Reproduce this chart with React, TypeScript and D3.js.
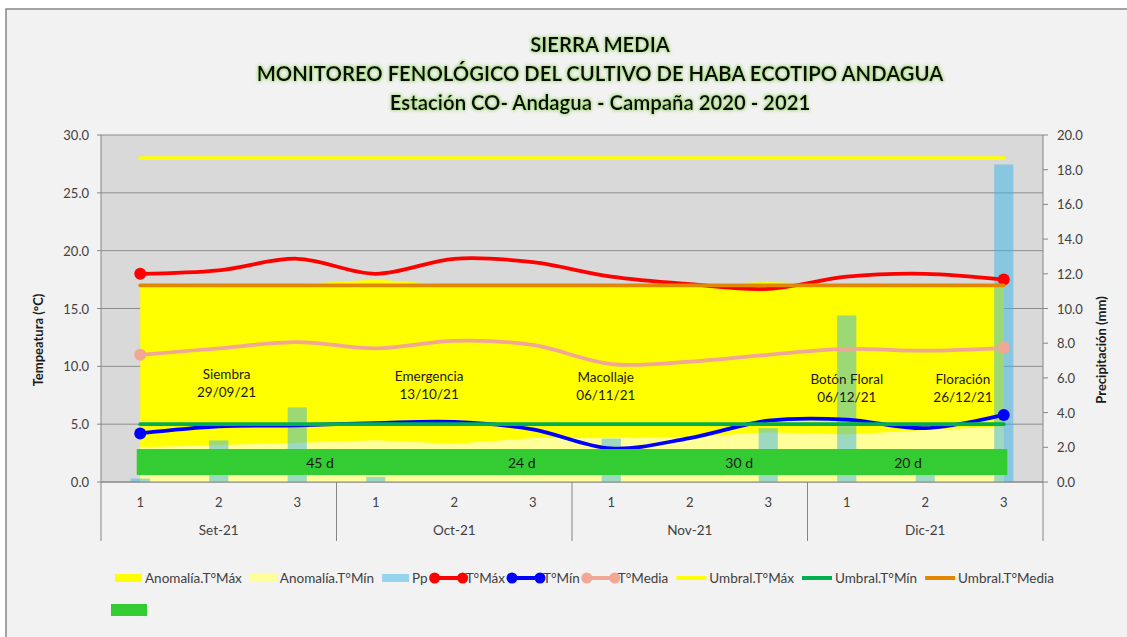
import React, { useEffect, useRef } from 'react';
import * as d3 from 'd3';

// --- data ---
const months = ['Set-21', 'Oct-21', 'Nov-21', 'Dic-21'];
const decades = ['1', '2', '3'];

const tMax = [18.0, 18.3, 19.3, 18.0, 19.3, 19.0, 17.75, 17.1, 16.7, 17.75, 18.0, 17.5];
const tMin = [4.2, 4.8, 4.9, 5.1, 5.2, 4.55, 2.9, 3.8, 5.3, 5.4, 4.65, 5.8];
const tMedia = [11.0, 11.55, 12.1, 11.55, 12.2, 11.85, 10.2, 10.4, 11.0, 11.5, 11.35, 11.6];
const pp = [0.2, 2.4, 4.3, 0.3, 0, 0, 2.5, 0, 3.1, 9.6, 1.2, 18.3];
const anomaliaMax = [17.0, 17.0, 17.1, 17.5, 17.0, 17.0, 17.0, 17.0, 17.3, 17.0, 17.0, 17.0];
const anomaliaMin = [3.0, 3.2, 3.4, 3.6, 3.3, 3.8, 3.8, 3.9, 4.3, 4.1, 4.5, 4.8];
const umbralMax = 28.0;
const umbralMin = 5.0;
const umbralMedia = 17.0;

// phenology annotations (x in category index, y in °C)
const phaseNames = ['Siembra', 'Emergencia', 'Macollaje', 'Botón Floral', 'Floración'];
const phaseDates = ['29/09/21', '13/10/21', '06/11/21', '06/12/21', '26/12/21'];
const phaseAt = [1.1, 3.68, 5.93, 9.0, 10.48];
const phaseTemp = [8.55, 8.4, 8.3, 8.15, 8.15];
const durations = ['45 d', '24 d', '30 d', '20 d'];
const durationAt = [2.29, 4.86, 7.63, 9.78];
const bandTemp = [0.6, 2.85];

const leftTicks = [0, 5, 10, 15, 20, 25, 30];
const rightTicks = [0, 2, 4, 6, 8, 10, 12, 14, 16, 18, 20];

const titleLines = [
    'SIERRA MEDIA',
    'MONITOREO FENOLÓGICO DEL CULTIVO DE HABA ECOTIPO ANDAGUA',
    'Estación CO- Andagua - Campaña 2020 - 2021',
];
const legendNames = ['Anomalía.T°Máx', 'Anomalía.T°Mín', 'Pp', 'T°Máx', 'T°Mín', 'T°Media', 'Umbral.T°Máx', 'Umbral.T°Mín', 'Umbral.T°Media'];

const FONT = 'Lato, "Open Sans", sans-serif';
const C = {
    yellow: '#ffff00',
    lightYellow: '#ffff99',
    pp: '#39b3e7',
    red: '#ff0000',
    blue: '#0000ff',
    pink: '#f2a695',
    green: '#00b050',
    orange: '#e28800',
    band: '#33cc33',
    text: '#404040',
    grid: '#8c8c8c',
};

const App = () => {
    const svgRef = useRef<SVGSVGElement>(null);

    useEffect(() => {
        const W = 1127, H = 637;
        const svg = d3.select(svgRef.current).attr('width', W).attr('height', H);
        svg.selectAll('*').remove();

        const defs = svg.append('defs');
        const f = defs.append('filter').attr('id', 'glow')
            .attr('x', '-10%').attr('y', '-40%').attr('width', '120%').attr('height', '180%');
        f.append('feMorphology').attr('in', 'SourceAlpha').attr('operator', 'dilate').attr('radius', 1).attr('result', 'd');
        f.append('feGaussianBlur').attr('in', 'd').attr('stdDeviation', 1.8).attr('result', 'b');
        f.append('feFlood').attr('flood-color', '#9ad86a').attr('flood-opacity', 0.7);
        f.append('feComposite').attr('in2', 'b').attr('operator', 'in').attr('result', 'g');
        const m = f.append('feMerge');
        m.append('feMergeNode').attr('in', 'g');
        m.append('feMergeNode').attr('in', 'SourceGraphic');

        // chart area
        svg.append('rect').attr('width', W).attr('height', H).attr('fill', '#fff');
        svg.append('rect').attr('x', 6).attr('y', 9).attr('width', W + 10).attr('height', H + 10)
            .attr('fill', '#f2f2f2').attr('stroke', '#868686').attr('stroke-width', 1.5);

        const plot = { left: 101, right: 1043, top: 135, bottom: 482 };
        const cats = months.flatMap(mo => decades.map(d => `${mo}|${d}`));
        const x = d3.scaleBand().domain(cats).range([plot.left, plot.right]).padding(0);
        const step = x.step();
        const cx = (i: number) => plot.left + (i + 0.5) * step;
        const yL = d3.scaleLinear().domain([0, 30]).range([plot.bottom, plot.top]);
        const yR = d3.scaleLinear().domain([0, 20]).range([plot.bottom, plot.top]);

        // plot background + gridlines
        svg.append('rect').attr('x', plot.left).attr('y', plot.top)
            .attr('width', plot.right - plot.left).attr('height', plot.bottom - plot.top).attr('fill', '#d9d9d9');
        svg.append('g').selectAll('line').data(leftTicks).join('line')
            .attr('x1', plot.left).attr('x2', plot.right)
            .attr('y1', d => yL(d)).attr('y2', d => yL(d))
            .attr('stroke', C.grid).attr('stroke-width', 1);

        // anomaly areas
        const area = d3.area<number>().x((_, i) => cx(i)).y0(yL(0)).y1(d => yL(d));
        svg.append('path').attr('d', area(anomaliaMax)).attr('fill', C.yellow);
        svg.append('path').attr('d', area(anomaliaMin)).attr('fill', C.lightYellow);

        // precipitation bars
        const bw = step / 4.1;
        svg.append('g').selectAll('rect').data(pp).join('rect')
            .attr('x', (_, i) => cx(i) - bw / 2).attr('width', bw)
            .attr('y', d => yR(d)).attr('height', d => yR(0) - yR(d))
            .attr('fill', C.pp).attr('fill-opacity', 0.5);

        // temperature lines
        const line = d3.line<number>().x((_, i) => cx(i)).y(d => yL(d)).curve(d3.curveCatmullRom.alpha(0.5));
        const tSeries: [number[], string][] = [[tMax, C.red], [tMin, C.blue], [tMedia, C.pink]];
        tSeries.forEach(([vals, col]) => {
            svg.append('path').attr('d', line(vals)).attr('fill', 'none')
                .attr('stroke', col).attr('stroke-width', 3.75).attr('stroke-linecap', 'round');
            [0, vals.length - 1].forEach(i => {
                svg.append('circle').attr('cx', cx(i)).attr('cy', yL(vals[i])).attr('r', 6).attr('fill', col);
            });
        });

        // thresholds
        const uSeries: [number, string][] = [[umbralMax, C.yellow], [umbralMin, C.green], [umbralMedia, C.orange]];
        uSeries.forEach(([v, col]) => {
            svg.append('line').attr('x1', cx(0)).attr('x2', cx(cats.length - 1))
                .attr('y1', yL(v)).attr('y2', yL(v))
                .attr('stroke', col).attr('stroke-width', 3.75).attr('stroke-linecap', 'round');
        });

        // phenology band
        svg.append('rect').attr('x', cx(0) - 3.5).attr('width', cx(cats.length - 1) - cx(0) + 7)
            .attr('y', yL(bandTemp[1])).attr('height', yL(bandTemp[0]) - yL(bandTemp[1]))
            .attr('fill', C.band);
        svg.append('g').selectAll('text').data(durations).join('text')
            .attr('x', (_, i) => cx(durationAt[i])).attr('y', yL((bandTemp[0] + bandTemp[1]) / 2))
            .attr('text-anchor', 'middle').attr('dominant-baseline', 'central')
            .attr('font-family', FONT).attr('font-size', 14).attr('fill', '#1a1a1a')
            .text(d => d);

        // phase labels
        phaseNames.forEach((name, i) => {
            const t = svg.append('text').attr('text-anchor', 'middle')
                .attr('font-family', FONT).attr('font-size', 13.5).attr('fill', '#1a1a1a');
            t.append('tspan').attr('x', cx(phaseAt[i])).attr('y', yL(phaseTemp[i]) - 9)
                .attr('dominant-baseline', 'central').text(name);
            t.append('tspan').attr('x', cx(phaseAt[i])).attr('y', yL(phaseTemp[i]) + 9)
                .attr('dominant-baseline', 'central').text(phaseDates[i]);
        });

        // axes
        const axisCol = '#868686';
        svg.append('line').attr('x1', plot.left).attr('x2', plot.right)
            .attr('y1', plot.bottom).attr('y2', plot.bottom).attr('stroke', axisCol);
        svg.append('line').attr('x1', plot.left).attr('x2', plot.left)
            .attr('y1', plot.top).attr('y2', plot.bottom).attr('stroke', axisCol);
        svg.append('line').attr('x1', plot.right).attr('x2', plot.right)
            .attr('y1', plot.top).attr('y2', plot.bottom).attr('stroke', axisCol);

        const lt = svg.append('g').selectAll('g').data(leftTicks).join('g');
        lt.append('line').attr('x1', plot.left - 4).attr('x2', plot.left)
            .attr('y1', d => yL(d)).attr('y2', d => yL(d)).attr('stroke', axisCol);
        lt.append('text').attr('x', plot.left - 12).attr('y', d => yL(d))
            .attr('text-anchor', 'end').attr('dominant-baseline', 'central')
            .attr('font-family', FONT).attr('font-size', 13).attr('fill', C.text)
            .text(d => d3.format('.1f')(d));

        const rt = svg.append('g').selectAll('g').data(rightTicks).join('g');
        rt.append('line').attr('x1', plot.right).attr('x2', plot.right + 5)
            .attr('y1', d => yR(d)).attr('y2', d => yR(d)).attr('stroke', axisCol);
        rt.append('text').attr('x', plot.right + 14).attr('y', d => yR(d))
            .attr('text-anchor', 'start').attr('dominant-baseline', 'central')
            .attr('font-family', FONT).attr('font-size', 13).attr('fill', C.text)
            .text(d => d3.format('.1f')(d));

        // multi-level category axis
        svg.append('g').selectAll('text').data(cats).join('text')
            .attr('x', (_, i) => cx(i)).attr('y', 502)
            .attr('text-anchor', 'middle').attr('dominant-baseline', 'central')
            .attr('font-family', FONT).attr('font-size', 13).attr('fill', C.text)
            .text(d => d.split('|')[1]);
        svg.append('g').selectAll('text').data(months).join('text')
            .attr('x', (_, i) => cx(i * 3 + 1)).attr('y', 530)
            .attr('text-anchor', 'middle').attr('dominant-baseline', 'central')
            .attr('font-family', FONT).attr('font-size', 13.5).attr('fill', C.text)
            .text(d => d);
        svg.append('g').selectAll('line').data(d3.range(months.length + 1)).join('line')
            .attr('x1', d => plot.left + d * 3 * step).attr('x2', d => plot.left + d * 3 * step)
            .attr('y1', plot.bottom).attr('y2', 541).attr('stroke', axisCol);

        // axis titles
        svg.append('text').attr('transform', 'translate(38,340) rotate(-90)')
            .attr('text-anchor', 'middle').attr('dominant-baseline', 'central')
            .attr('font-family', FONT).attr('font-size', 13).attr('font-weight', 'bold').attr('fill', '#1a1a1a')
            .text('Tempeatura (°C)');
        svg.append('text').attr('transform', 'translate(1101,350) rotate(-90)')
            .attr('text-anchor', 'middle').attr('dominant-baseline', 'central')
            .attr('font-family', FONT).attr('font-size', 13).attr('font-weight', 'bold').attr('fill', '#1a1a1a')
            .text('Precipitación (mm)');

        // title
        svg.append('g').selectAll('text').data(titleLines).join('text')
            .attr('x', 600).attr('y', (_, i) => 44 + i * 29)
            .attr('text-anchor', 'middle').attr('dominant-baseline', 'central')
            .attr('font-family', FONT).attr('font-size', 20.3).attr('font-weight', 'bold').attr('fill', '#111')
            .attr('filter', 'url(#glow)')
            .text(d => d);

        // legend
        const kinds = ['rect', 'rect', 'rect', 'marker', 'marker', 'marker', 'line', 'line', 'line'];
        const colors = [C.yellow, C.lightYellow, C.pp, C.red, C.blue, C.pink, C.yellow, C.green, C.orange];
        const ly = 578;
        const lg = svg.append('g');
        let lx = 115;
        legendNames.forEach((name, i) => {
            const k = kinds[i];
            let tx = lx;
            if (k === 'rect') {
                lg.append('rect').attr('x', lx).attr('y', ly - 4).attr('width', 27).attr('height', 8)
                    .attr('fill', colors[i]).attr('fill-opacity', i === 2 ? 0.5 : 1);
                tx = lx + 30;
            } else if (k === 'marker') {
                lg.append('line').attr('x1', lx - 1).attr('x2', lx + 27).attr('y1', ly).attr('y2', ly)
                    .attr('stroke', colors[i]).attr('stroke-width', 4);
                [lx - 1, lx + 27].forEach(px => lg.append('circle').attr('cx', px).attr('cy', ly).attr('r', 5.5).attr('fill', colors[i]));
                tx = lx + 30;
            } else {
                lg.append('line').attr('x1', lx).attr('x2', lx + 30).attr('y1', ly).attr('y2', ly)
                    .attr('stroke', colors[i]).attr('stroke-width', 4);
                tx = lx + 33;
            }
            const t = lg.append('text').attr('x', tx).attr('y', ly)
                .attr('dominant-baseline', 'central')
                .attr('font-family', FONT).attr('font-size', 13.5).attr('fill', C.text)
                .text(name);
            const len = (t.node() as SVGTextElement).getComputedTextLength();
            lx = tx + len + 8;
        });
        lg.append('rect').attr('x', 111).attr('y', 604).attr('width', 36).attr('height', 12).attr('fill', C.band);
    }, []);

    return (
        <div style={{ position: 'fixed', left: 0, top: 0 }}>
            <svg ref={svgRef}></svg>
        </div>
    );
};

export default App;
